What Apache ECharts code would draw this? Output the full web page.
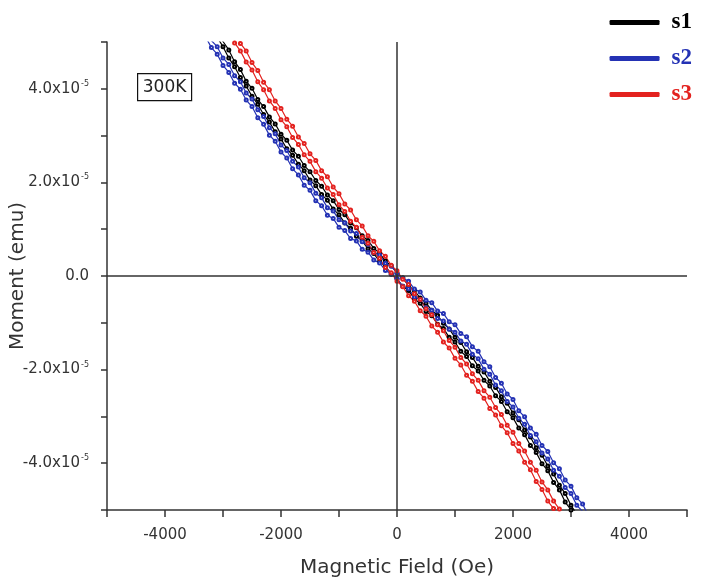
<!DOCTYPE html>
<html>
<head>
<meta charset="utf-8">
<script src="https://cdn.jsdelivr.net/npm/echarts@6/dist/echarts.min.js"></script>
<style>
  html, body { margin: 0; padding: 0; background: #fff; }
  #chart { width: 702px; height: 582px; }
</style>
</head>
<body>
<div id="chart"></div>
<script>
// field sweep (Oe), shared by every branch
var field = [-3300, -3200, -3100, -3000, -2900, -2800, -2700, -2600, -2500, -2400, -2300, -2200, -2100, -2000, -1900, -1800, -1700,
  -1600, -1500, -1400, -1300, -1200, -1100, -1000, -900, -800, -700, -600, -500, -400, -300, -200, -100, 0,
  100, 200, 300, 400, 500, 600, 700, 800, 900, 1000, 1100, 1200, 1300, 1400, 1500, 1600, 1700,
  1800, 1900, 2000, 2100, 2200, 2300, 2400, 2500, 2600, 2700, 2800, 2900, 3000, 3100, 3200, 3300];

// moment in units of 1e-5 emu
var s1Down = [5.72, 5.45, 5.27, 5.01, 4.83, 4.58, 4.41, 4.16, 4.01, 3.77, 3.62, 3.40, 3.25, 3.03, 2.90, 2.69, 2.56,
  2.36, 2.23, 2.04, 1.92, 1.73, 1.61, 1.42, 1.31, 1.13, 1.03, 0.86, 0.76, 0.59, 0.49, 0.32, 0.22, 0.06,
  -0.04, -0.21, -0.31, -0.47, -0.58, -0.73, -0.84, -1.01, -1.13, -1.31, -1.42, -1.62, -1.74, -1.93, -2.05, -2.25, -2.38,
  -2.58, -2.72, -2.93, -3.07, -3.29, -3.44, -3.67, -3.83, -4.06, -4.23, -4.47, -4.65, -4.90, -5.09, -5.35, -5.54];
var s1Up = [5.54, 5.35, 5.10, 4.90, 4.66, 4.47, 4.24, 4.06, 3.84, 3.67, 3.45, 3.29, 3.08, 2.93, 2.72, 2.58, 2.39,
  2.25, 2.05, 1.93, 1.74, 1.62, 1.43, 1.31, 1.13, 1.02, 0.85, 0.75, 0.58, 0.48, 0.31, 0.21, 0.04, -0.06,
  -0.22, -0.31, -0.49, -0.58, -0.76, -0.85, -1.03, -1.12, -1.31, -1.41, -1.61, -1.72, -1.92, -2.03, -2.23, -2.35, -2.56,
  -2.68, -2.90, -3.03, -3.25, -3.39, -3.62, -3.77, -4.01, -4.16, -4.41, -4.57, -4.83, -5.00, -5.27, -5.45, -5.72];

var s2Down = [5.27, 5.03, 4.90, 4.66, 4.52, 4.28, 4.15, 3.91, 3.78, 3.55, 3.41, 3.17, 3.04, 2.80, 2.68, 2.45, 2.33,
  2.10, 1.99, 1.77, 1.67, 1.46, 1.39, 1.20, 1.14, 0.96, 0.91, 0.73, 0.68, 0.50, 0.45, 0.27, 0.21, 0.06,
  -0.05, -0.11, -0.28, -0.34, -0.52, -0.57, -0.75, -0.80, -0.98, -1.04, -1.23, -1.30, -1.51, -1.61, -1.83, -1.94, -2.17,
  -2.29, -2.52, -2.64, -2.88, -3.01, -3.25, -3.38, -3.62, -3.75, -3.99, -4.12, -4.36, -4.49, -4.74, -4.87, -5.12];
var s2Up = [5.11, 4.88, 4.74, 4.50, 4.35, 4.12, 3.99, 3.76, 3.62, 3.38, 3.24, 3.01, 2.88, 2.65, 2.52, 2.29, 2.16,
  1.94, 1.83, 1.61, 1.50, 1.30, 1.23, 1.04, 0.97, 0.80, 0.75, 0.57, 0.51, 0.34, 0.28, 0.12, 0.05, -0.06,
  -0.22, -0.27, -0.45, -0.50, -0.68, -0.73, -0.91, -0.96, -1.14, -1.20, -1.39, -1.46, -1.67, -1.77, -1.99, -2.10, -2.33,
  -2.45, -2.68, -2.80, -3.04, -3.17, -3.41, -3.54, -3.78, -3.91, -4.15, -4.28, -4.52, -4.65, -4.90, -5.03, -5.28];

var s3Down = [6.25, 6.07, 5.81, 5.64, 5.39, 5.22, 4.97, 4.81, 4.56, 4.39, 4.14, 3.98, 3.74, 3.58, 3.35, 3.20, 2.97,
  2.83, 2.61, 2.47, 2.25, 2.12, 1.90, 1.76, 1.54, 1.41, 1.20, 1.07, 0.86, 0.74, 0.54, 0.42, 0.23, 0.11,
  -0.07, -0.18, -0.38, -0.50, -0.70, -0.83, -1.04, -1.17, -1.38, -1.52, -1.74, -1.88, -2.09, -2.23, -2.45, -2.59, -2.81,
  -2.96, -3.19, -3.34, -3.58, -3.74, -3.98, -4.15, -4.40, -4.57, -4.81, -4.98, -5.23, -5.40, -5.65, -5.83, -6.09];
var s3Up = [6.09, 5.83, 5.65, 5.40, 5.23, 4.98, 4.81, 4.57, 4.40, 4.15, 3.98, 3.74, 3.58, 3.34, 3.19, 2.96, 2.81,
  2.59, 2.45, 2.23, 2.09, 1.88, 1.74, 1.52, 1.38, 1.17, 1.04, 0.83, 0.70, 0.50, 0.38, 0.18, 0.07, -0.11,
  -0.23, -0.42, -0.54, -0.74, -0.86, -1.07, -1.20, -1.41, -1.54, -1.76, -1.90, -2.12, -2.25, -2.47, -2.61, -2.83, -2.97,
  -3.20, -3.35, -3.58, -3.74, -3.98, -4.14, -4.39, -4.56, -4.81, -4.97, -5.22, -5.39, -5.64, -5.81, -6.07, -6.25];

var names = ['s1', 's2', 's3'];
var colors = ['#000000', '#2432b4', '#e3221f'];
var branches = [[s1Down, s1Up], [s2Down, s2Up], [s3Down, s3Up]];

function pairs(ys) {
  return field.map(function (x, i) { return [x, ys[i]]; });
}

var series = [];
branches.forEach(function (b, k) {
  b.forEach(function (ys) {
    series.push({
      name: names[k],
      type: 'line',
      data: pairs(ys),
      symbol: 'emptyCircle',
      symbolSize: 3,
      lineStyle: { color: colors[k], width: 1.2 },
      itemStyle: { color: colors[k], borderWidth: 1 },
      clip: true
    });
  });
});

// crosshair lines through the origin
series[0].markLine = {
  silent: true,
  symbol: 'none',
  label: { show: false },
  lineStyle: { color: '#333', width: 1.5, type: 'solid' },
  data: [{ xAxis: 0 }, { yAxis: 0 }]
};

var font = 'DejaVu Sans';

var chart = echarts.init(document.getElementById('chart'));
chart.setOption({
  animation: false,
  backgroundColor: '#fff',
  grid: { left: 107, right: 15, top: 42, bottom: 72, containLabel: false, outerBoundsMode: 'none' },
  legend: {
    orient: 'vertical',
    right: 5,
    top: 6,
    itemWidth: 50,
    itemHeight: 5,
    itemGap: 13,
    icon: 'roundRect',
    selectedMode: false,
    textStyle: { fontFamily: 'Liberation Serif', fontWeight: 'bold', fontSize: 23, padding: [0, 0, 0, 7] },
    data: [
      { name: 's1', textStyle: { color: colors[0] } },
      { name: 's2', textStyle: { color: colors[1] } },
      { name: 's3', textStyle: { color: colors[2] } }
    ]
  },
  xAxis: {
    type: 'value',
    min: -5000,
    max: 5000,
    interval: 1000,
    name: 'Magnetic Field (Oe)',
    nameLocation: 'middle',
    nameGap: 48,
    nameMoveOverlap: false,
    nameTextStyle: { fontFamily: font, fontSize: 20, color: '#333' },
    axisLine: { onZero: false, lineStyle: { color: '#333', width: 1.5 } },
    axisTick: { length: 7, lineStyle: { color: '#333', width: 1.5 } },
    axisLabel: {
      margin: 18,
      fontFamily: font,
      fontSize: 15,
      color: '#333',
      formatter: function (v) { return v % 2000 === 0 ? String(v) : ''; }
    },
    splitLine: { show: false }
  },
  yAxis: {
    type: 'value',
    min: -5,
    max: 5,
    interval: 1,
    name: 'Moment (emu)',
    nameLocation: 'middle',
    nameGap: 79,
    nameMoveOverlap: false,
    nameTextStyle: { fontFamily: font, fontSize: 20, color: '#333' },
    axisLine: { onZero: false, lineStyle: { color: '#333', width: 1.5 } },
    axisTick: { length: 6, lineStyle: { color: '#333', width: 1.5 } },
    axisLabel: {
      margin: 18,
      fontFamily: font,
      fontSize: 15,
      color: '#333',
      formatter: function (v) {
        if (v === 0) return '{a|0.0}';
        if (v % 2 !== 0) return '';
        return '{a|' + v.toFixed(1) + 'x10}{s|-5}';
      },
      rich: {
        a: { fontFamily: font, fontSize: 15, color: '#333' },
        s: { fontFamily: font, fontSize: 8, color: '#333', padding: [0, 0, 10, 1] }
      }
    },
    splitLine: { show: false }
  },
  graphic: [{
    type: 'group',
    left: 137,
    top: 73,
    children: [
      { type: 'rect', shape: { x: 0, y: 0, width: 54, height: 27 }, style: { fill: '#fff', stroke: '#111', lineWidth: 1.2 } },
      { type: 'text', x: 27, y: 14, style: { text: '300K', fontFamily: font, fontSize: 17, fill: '#222', align: 'center', verticalAlign: 'middle' } }
    ]
  }],
  series: series
});
</script>
</body>
</html>
